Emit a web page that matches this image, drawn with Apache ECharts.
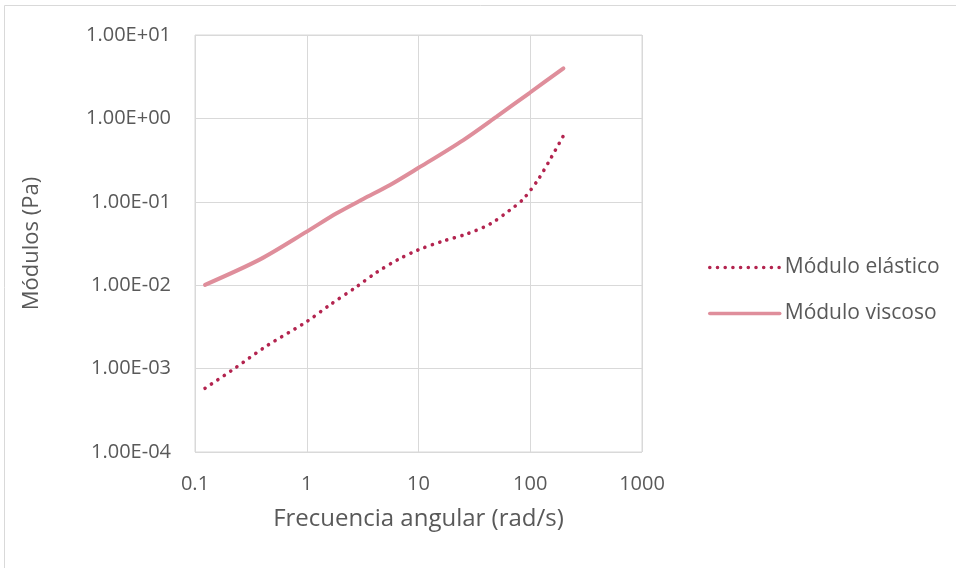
<!DOCTYPE html>
<html>
<head>
<meta charset="utf-8">
<script src="https://cdn.jsdelivr.net/npm/echarts@6/dist/echarts.min.js"></script>
<style>
  html, body { margin: 0; padding: 0; background: #fff; }
  #chart { width: 956px; height: 568px; }
</style>
</head>
<body>
<div id="chart"></div>
<script>
// valores (frecuencia rad/s, módulo Pa)
var elastico = [
    [0.123, 5.8e-4], [0.22, 9.8e-4], [0.438, 1.87e-3], [1.0, 3.66e-3],
    [1.61, 5.8e-3], [2.8, 9.6e-3], [4.23, 0.0143], [6.6, 0.0204],
    [9.85, 0.0264], [16.7, 0.0339], [27, 0.0411], [43.7, 0.0542],
    [65.9, 0.0798], [86.7, 0.108], [118, 0.186], [155.6, 0.348], [198, 0.62]
];
var viscoso = [
    [0.123, 0.0101], [0.382, 0.0204], [1.0, 0.0439], [1.85, 0.0728],
    [3.2, 0.108], [5.56, 0.159], [9.85, 0.252], [25.2, 0.55],
    [50, 1.05], [99, 2.03], [198, 3.98]
];
var seriesNames = ['Módulo elástico', 'Módulo viscoso'];

var myChart = echarts.init(document.getElementById('chart'));
var txt = '#595959';
var fontFam = '"Open Sans", "Noto Sans", sans-serif';

function fmtY(v) {
    var e = Math.round(Math.log10(v));
    var s = e < 0 ? '-' : '+';
    var a = Math.abs(e);
    return '1.00E' + s + (a < 10 ? '0' + a : a);
}
function fmtX(v) {
    var e = Math.round(Math.log10(v));
    return e < 0 ? '0.1' : String(Math.pow(10, e));
}

myChart.setOption({
    animation: false,
    graphic: [{
        type: 'rect',
        shape: { x: 4.5, y: 5.5, width: 1000, height: 700 },
        style: { fill: 'none', stroke: '#d9d9d9', lineWidth: 1 },
        silent: true
    }],
    grid: {
        left: 195, top: 35, width: 447, height: 417,
        show: true, borderColor: '#d9d9d9', borderWidth: 1
    },
    legend: {
        orient: 'vertical',
        left: 703, top: 252,
        itemWidth: 70, itemHeight: 14, itemGap: 25,
        itemStyle: { opacity: 0 },
        lineStyle: { width: 3.5 },
        textStyle: { color: txt, fontSize: 21, fontFamily: fontFam },
        data: seriesNames
    },
    xAxis: {
        type: 'log', logBase: 10, min: 0.1, max: 1000,
        name: 'Frecuencia angular (rad/s)',
        nameLocation: 'middle', nameGap: 55,
        nameTextStyle: { color: txt, fontSize: 24, fontFamily: fontFam },
        axisLine: { show: false },
        axisTick: { show: false },
        minorTick: { show: false },
        axisLabel: { color: txt, fontSize: 20, fontFamily: fontFam, margin: 22, formatter: fmtX },
        splitLine: { show: true, lineStyle: { color: '#d9d9d9', width: 1 } }
    },
    yAxis: {
        type: 'log', logBase: 10, min: 1e-4, max: 10,
        name: 'Módulos (Pa)',
        nameLocation: 'middle', nameGap: 152,
        nameTextStyle: { color: txt, fontSize: 22, fontFamily: fontFam },
        axisLine: { show: false },
        axisTick: { show: false },
        axisLabel: { color: txt, fontSize: 20, fontFamily: fontFam, margin: 24, formatter: fmtY },
        splitLine: { show: true, lineStyle: { color: '#d9d9d9', width: 1 } }
    },
    series: [
        {
            name: seriesNames[0],
            type: 'line',
            data: elastico,
            smooth: 0.3,
            showSymbol: false,
            symbol: 'none',
            color: '#b3244f',
            lineStyle: { color: '#b3244f', width: 3.6, type: [0.1, 7.6], cap: 'round' }
        },
        {
            name: seriesNames[1],
            type: 'line',
            data: viscoso,
            smooth: 0.3,
            showSymbol: false,
            symbol: 'none',
            color: '#df8e9b',
            lineStyle: { color: '#df8e9b', width: 4, cap: 'round' }
        }
    ]
});
</script>
</body>
</html>
